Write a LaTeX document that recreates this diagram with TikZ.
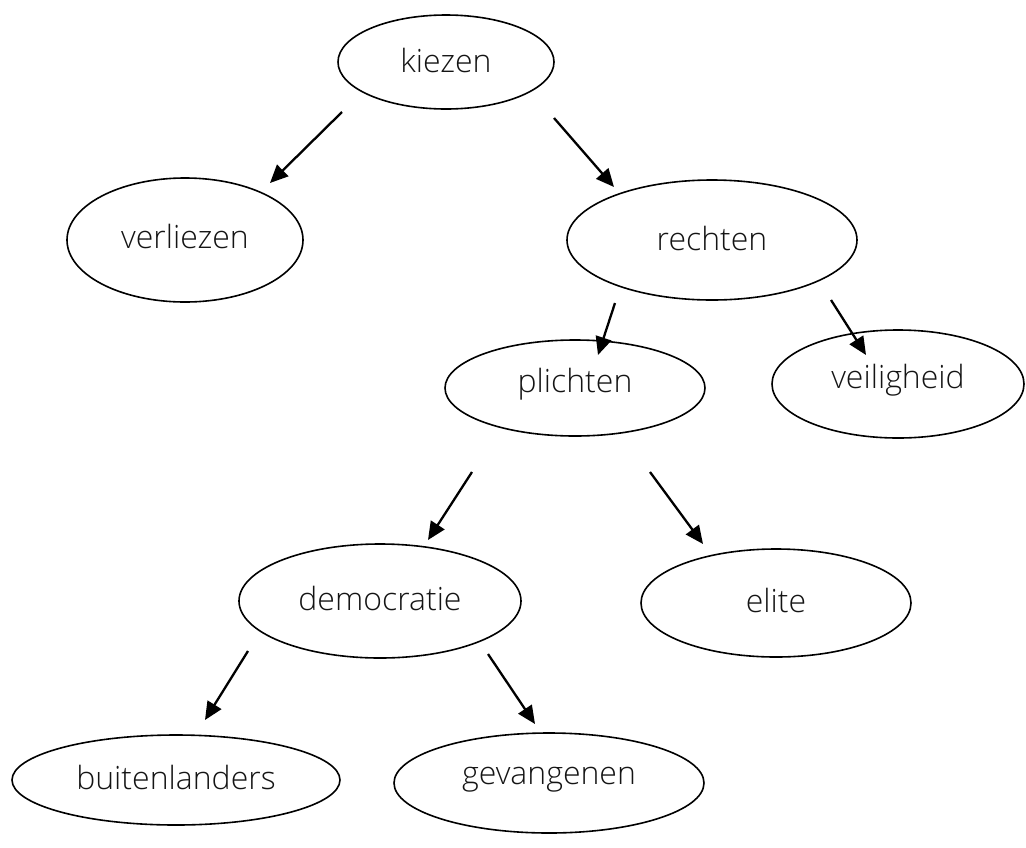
\documentclass[tikz,border=0pt]{standalone}
\usepackage{fontspec}
\setmainfont{Open Sans Light}
\usetikzlibrary{arrows.meta}
\begin{document}
\begin{tikzpicture}[x=1pt,y=-1pt,
  el/.style={draw=black,line width=1.6pt},
  arr/.style={line width=2.3pt,-{Triangle[length=18pt,width=16pt]}},
  lbl/.style={font=\fontsize{32}{36}\selectfont,text=black!92}]
\path[use as bounding box] (0,0) rectangle (1026,847);
% ellipses
\draw[el] (446,62) ellipse [x radius=108,y radius=47];
\draw[el] (185,240) ellipse [x radius=118,y radius=62];
\draw[el] (712,240) ellipse [x radius=145,y radius=60];
\draw[el] (575,388) ellipse [x radius=130,y radius=48];
\draw[el] (898,384) ellipse [x radius=126,y radius=54];
\draw[el] (380,601) ellipse [x radius=141,y radius=57];
\draw[el] (776,603) ellipse [x radius=135,y radius=54];
\draw[el] (176,780) ellipse [x radius=164,y radius=45];
\draw[el] (549,783) ellipse [x radius=155,y radius=50];
% labels
\node[lbl] (kiezen) at (446,60) {kiezen};
\node[lbl] (verliezen) at (185,236) {verliezen};
\node[lbl] (rechten) at (712,238) {rechten};
\node[lbl] (plichten) at (575,384) {plichten};
\node[lbl] (veiligheid) at (898,380) {veiligheid};
\node[lbl] (democratie) at (380,598) {democratie};
\node[lbl] (elite) at (776,600) {elite};
\node[lbl] (buitenlanders) at (176,777) {buitenlanders};
\node[lbl] (gevangenen) at (549,780) {gevangenen};
% connectors
\coordinate (a1) at (342,112); \coordinate (b1) at (270,183);
\coordinate (a2) at (554,118); \coordinate (b2) at (614,187);
\coordinate (a3) at (615,303); \coordinate (b3) at (598,355);
\coordinate (a4) at (831,300); \coordinate (b4) at (866,355);
\coordinate (a5) at (472,472); \coordinate (b5) at (428,540);
\coordinate (a6) at (650,472); \coordinate (b6) at (703,544);
\coordinate (a7) at (248,651); \coordinate (b7) at (205,720);
\coordinate (a8) at (488,654); \coordinate (b8) at (535,724);
\foreach \i in {1,...,8} {\draw[arr] (a\i) -- (b\i);}
\end{tikzpicture}
\end{document}
